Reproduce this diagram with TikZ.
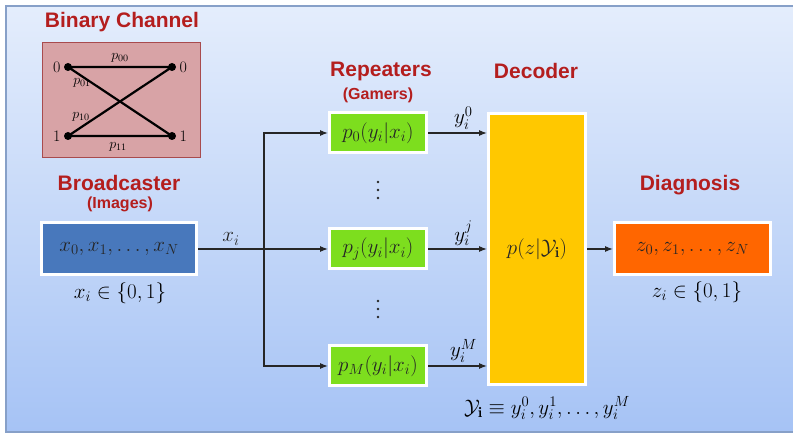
\RequirePackage{fix-cm}
\documentclass[tikz,border=0pt]{standalone}
\usepackage{fontspec}
\newfontfamily\titlefont{Liberation Sans}
\usetikzlibrary{arrows.meta,shadows}
\definecolor{panelTop}{RGB}{228,237,252}
\definecolor{panelBot}{RGB}{166,195,245}
\definecolor{panelEdge}{RGB}{135,160,200}
\definecolor{titleRed}{RGB}{180,30,30}
\definecolor{chanFill}{RGB}{216,163,166}
\definecolor{chanEdge}{RGB}{168,75,78}
\definecolor{srcBlue}{RGB}{72,120,188}
\definecolor{repGreen}{RGB}{125,222,30}
\definecolor{decYellow}{RGB}{255,200,0}
\definecolor{outOrange}{RGB}{255,102,0}
\tikzset{
  headline/.style={text=titleRed, font=\titlefont\bfseries\fontsize{21}{24}\selectfont},
  subline/.style={text=titleRed, font=\titlefont\bfseries\fontsize{16}{19}\selectfont},
  block/.style={draw=white, line width=3pt, inner sep=0pt, text=black!85,
    font=\fontsize{21}{25}\selectfont,
    drop shadow={shadow xshift=1.5pt, shadow yshift=-1.5pt, opacity=.3}},
  lbl/.style={font=\fontsize{21}{25}\selectfont},
  dlbl/.style={font=\fontsize{16}{18}\selectfont},
  plbl/.style={font=\fontsize{14}{16}\selectfont},
  wire/.style={line width=1.1pt, draw=black!85, -{Latex[length=8pt,width=6pt]}},
}
\begin{document}
\begin{tikzpicture}[x=1pt,y=-1pt]
  \useasboundingbox (0,0) rectangle (793,438);
  \fill[white] (0,0) rectangle (793,438);
  \shade[top color=panelTop,bottom color=panelBot] (6,6) rectangle (800,432);
  \draw[panelEdge,line width=1.2pt] (800,6) -- (6,6) -- (6,432) -- (800,432);

  % binary channel
  \node[headline] (chanT) at (122,22) {Binary Channel};
  \draw[chanEdge,fill=chanFill,line width=1pt] (42,43) rectangle (200,158);
  \coordinate (a0) at (68,67);
  \coordinate (b0) at (172,67);
  \coordinate (a1) at (68,136);
  \coordinate (b1) at (172,136);
  \draw[line width=2.2pt] (a0) -- (b0) (a0) -- (b1) (a1) -- (b0) (a1) -- (b1);
  \fill (a0) circle (4pt) node[dlbl,left=4pt] {0};
  \fill (b0) circle (4pt) node[dlbl,right=4pt] {0};
  \fill (a1) circle (4pt) node[dlbl,left=4pt] {1};
  \fill (b1) circle (4pt) node[dlbl,right=4pt] {1};
  \node[plbl] (p00) at (120,58) {$p_{00}$};
  \node[plbl] (p01) at (82,83) {$p_{01}$};
  \node[plbl] (p10) at (81,117) {$p_{10}$};
  \node[plbl] (p11) at (118,147) {$p_{11}$};

  % titles
  \node[headline] (bcastT) at (119,183) {Broadcaster};
  \node[subline] (bcastS) at (120,204) {(Images)};
  \node[headline] (repT) at (381,71) {Repeaters};
  \node[subline] (repS) at (378,95) {(Gamers)};
  \node[headline] (decT) at (536,71) {Decoder};
  \node[headline] (diagT) at (690,185) {Diagnosis};

  % blocks
  \node[block,fill=srcBlue,minimum width=155pt,minimum height=52pt] (bcast) at (119,249) {$x_0,x_1,\ldots,x_N$};
  \node[block,fill=repGreen,minimum width=97pt,minimum height=40pt] (rep0) at (378,133) {$p_0(y_i|x_i)$};
  \node[block,fill=repGreen,minimum width=97pt,minimum height=40pt] (repj) at (378,249) {$p_j(y_i|x_i)$};
  \node[block,fill=repGreen,minimum width=97pt,minimum height=40pt] (repM) at (378,366) {$p_M(y_i|x_i)$};
  \node[block,fill=decYellow,minimum width=97pt,minimum height=271pt] (dec) at (537,249) {$p(z|\mathcal{Y}_{\mathbf{i}})$};
  \node[block,fill=outOrange,minimum width=156pt,minimum height=52pt] (diag) at (692.5,249) {$z_0,z_1,\ldots,z_N$};
  \foreach \dy in {-8,0,8} {
    \fill[black!85] (378,190+\dy) circle (1.3pt);
    \fill[black!85] (378,309+\dy) circle (1.3pt);
  }

  % wires
  \coordinate (fork) at (264,249);
  \draw[line width=1.1pt,black!85] (bcast) -- node[lbl,above] {$x_i$} (fork);
  \draw[wire] (fork) -- (repj);
  \draw[wire] (fork) |- (rep0);
  \draw[wire] (fork) |- (repM);
  \draw[wire] (rep0) -- node[lbl,above,pos=.6] {$y_i^0$} (rep0 -| dec.west);
  \draw[wire] (repj) -- node[lbl,above,pos=.6] {$y_i^j$} (repj -| dec.west);
  \draw[wire] (repM) -- node[lbl,above,pos=.6] {$y_i^M$} (repM -| dec.west);
  \draw[wire] (dec) -- (diag);

  % annotations
  \node[lbl] (xin) at (120,293) {$x_i\in\{0,1\}$};
  \node[lbl] (zin) at (697,292) {$z_i\in\{0,1\}$};
  \node[lbl] (yset) at (547,408) {$\mathcal{Y}_{\mathbf{i}}\equiv y_i^0,y_i^1,\ldots,y_i^M$};
\end{tikzpicture}
\end{document}
